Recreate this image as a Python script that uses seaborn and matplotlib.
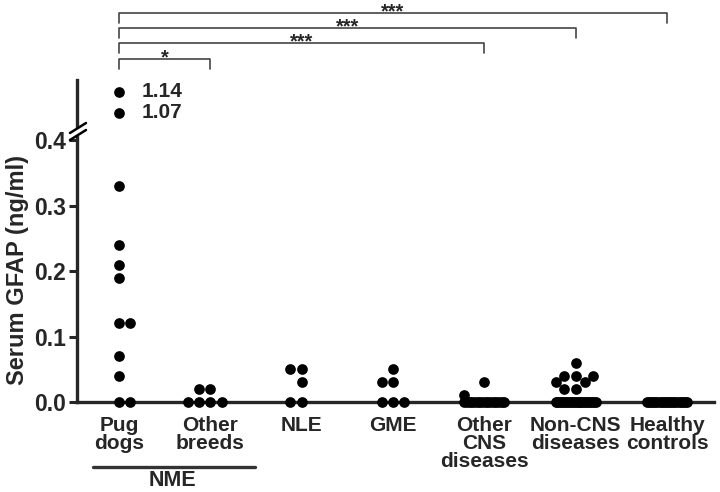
import numpy as np
import pandas as pd
import matplotlib
matplotlib.use("Agg")
import matplotlib.pyplot as plt
import seaborn as sns
from matplotlib.lines import Line2D
from matplotlib.transforms import blended_transform_factory

# categories / tick labels
groups = ["Pug dogs", "Other breeds", "NLE", "GME",
          "Other CNS diseases", "Non-CNS diseases", "Healthy controls"]
tick_labels = ["Pug\ndogs", "Other\nbreeds", "NLE", "GME",
               "Other\nCNS\ndiseases", "Non-CNS\ndiseases", "Healthy\ncontrols"]

# serum GFAP values (ng/ml)
pug_dogs = [1.14, 1.07, 0.33, 0.24, 0.21, 0.19, 0.12, 0.12, 0.07, 0.04, 0.0, 0.0]
other_breeds = [0.02, 0.02, 0.0, 0.0, 0.0, 0.0]
nle = [0.05, 0.05, 0.03, 0.0, 0.0]
gme = [0.05, 0.03, 0.03, 0.0, 0.0, 0.0]
other_cns = [0.03, 0.01] + [0.0] * 16
non_cns = [0.06, 0.04, 0.04, 0.04, 0.03, 0.03, 0.02, 0.02] + [0.0] * 22
healthy = [0.0] * 20

# significance brackets: target group index, stars
sig_targets = [6, 5, 4, 1]
sig_labels = ["***", "***", "***", "*"]
sig_levels_px = [13, 28, 43, 59]

values = [pug_dogs, other_breeds, nle, gme, other_cns, non_cns, healthy]
df = pd.DataFrame({
    "group": np.repeat(groups, [len(v) for v in values]),
    "gfap": np.concatenate(values),
})
low = df[df.gfap <= 0.405]
high = df[df.gfap > 0.405]

sns.set_style("white")
plt.rcParams["font.family"] = ["Liberation Sans", "DejaVu Sans"]
plt.rcParams["font.weight"] = "bold"

W, H = 720, 492
fig = plt.figure(figsize=(W / 100, H / 100), dpi=100)
ax = fig.add_axes([77 / W, 1 - 402 / H, (714 - 77) / W, (402 - 137) / H])
ax_top = fig.add_axes([77 / W, 1 - 126 / H, (714 - 77) / W, (126 - 80) / H])

dot = 7.7
sns.swarmplot(data=low, x="group", y="gfap", order=groups, color="black",
              size=dot, ax=ax, clip_on=False, zorder=3, warn_thresh=1)
sns.swarmplot(data=high, x="group", y="gfap", order=groups, color="black",
              size=dot, ax=ax_top, clip_on=False, zorder=3, warn_thresh=1)

xlim = (-0.46, 6.515)
for a in (ax, ax_top):
    a.set_xlim(*xlim)
    a.set_xlabel("")
    a.set_ylabel("")
    for s in ["top", "right"]:
        a.spines[s].set_visible(False)
    a.spines["left"].set_linewidth(2.4)
    a.spines["bottom"].set_linewidth(2.4)

ax.set_ylim(0, 0.405)
ax.set_yticks([0, 0.1, 0.2, 0.3, 0.4])
ax.set_yticklabels([f"{t:.1f}" for t in [0, 0.1, 0.2, 0.3, 0.4]],
                   fontsize=16.5, fontweight="bold")
ax.tick_params(axis="y", length=6, width=2.2, pad=2, direction="out", left=True)
ax.set_xticks(range(len(groups)))
ax.set_xticklabels(tick_labels, fontsize=15, fontweight="bold", linespacing=0.95)
ax.tick_params(axis="x", length=0, pad=10)

ax_top.set_ylim(1.026, 1.179)
ax_top.spines["bottom"].set_visible(False)
ax_top.set_xticks([])
ax_top.set_yticks([])
for v in high.gfap:
    ax_top.text(0.25, v, f"{v:.2f}", va="center", ha="left",
                fontsize=15, fontweight="bold")

fig.text(18 / W, 1 - 270 / H, "Serum GFAP (ng/ml)", rotation=90,
         ha="center", va="center", fontsize=17, fontweight="bold")

# axis break marks
for dy in (0, 7):
    fig.add_artist(Line2D([70 / W, 86 / W], [1 - (133 + dy) / H, 1 - (123 + dy) / H],
                          color="black", lw=1.8))

# significance brackets
trans = blended_transform_factory(ax.transData, fig.transFigure)
for t, lab, ypx in zip(sig_targets, sig_labels, sig_levels_px):
    y = 1 - ypx / H
    yd = 1 - (ypx + 10) / H
    ax.plot([0, 0, t, t], [yd, y, y, yd], color="#444444", lw=1.2,
            transform=trans, clip_on=False)
    ax.text(t / 2, 1 - (ypx + 4) / H, lab, ha="center", va="baseline",
            fontsize=14.5, fontweight="bold", transform=trans)

# NME grouping line
ax.plot([-0.285, 1.49], [1 - 467 / H, 1 - 467 / H], color="#333333", lw=2.4,
        transform=trans, clip_on=False, solid_capstyle="round")
ax.text(0.58, 1 - 481 / H, "NME", ha="center", va="center", fontsize=15.5,
        fontweight="bold", transform=trans)

# crowded tied rows overlap into a band in the original: spread them evenly
# (keeping seaborn's order) over a narrow width, leave sparse rows alone
fig.canvas.draw()
gutter = 0.22
for a in (ax, ax_top):
    for c in a.collections:
        off = c.get_offsets()
        if len(off) == 0:
            continue
        off = np.array(off)
        center = np.round(np.median(off[:, 0]))
        crowded = False
        for yv in np.unique(off[:, 1]):
            row = np.where(off[:, 1] == yv)[0]
            if len(row) >= 6:
                crowded = True
                order = row[np.argsort(off[row, 0], kind="stable")]
                off[order, 0] = center + np.linspace(-gutter, gutter, len(row))
        if crowded:
            off[:, 0] = center + np.clip(off[:, 0] - center, -gutter, gutter)
        c.set_offsets(off)
        if "draw" in c.__dict__:
            del c.draw

fig.savefig("out.png", dpi=100)
